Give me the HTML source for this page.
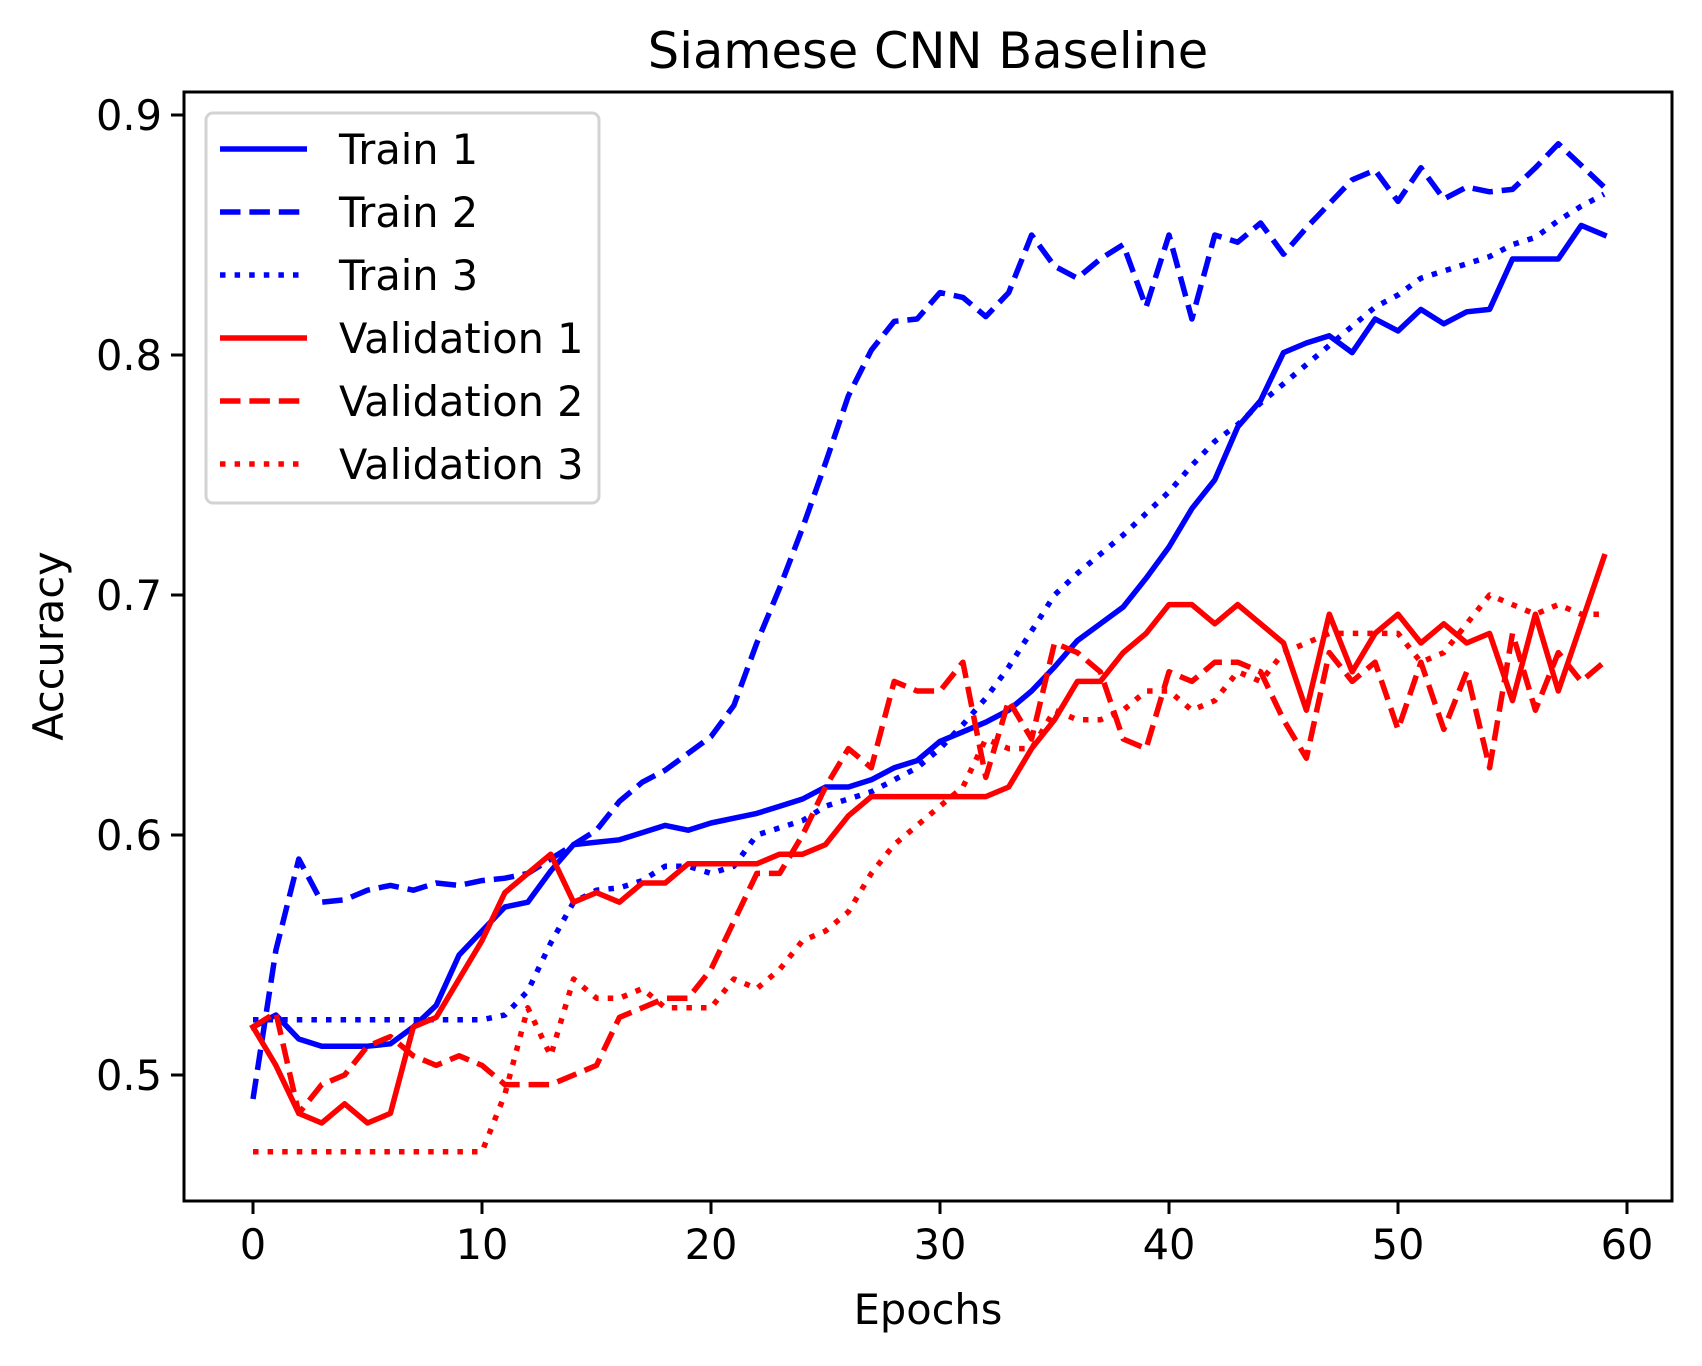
<!DOCTYPE html>
<html><head><meta charset="utf-8"><style>
html,body{margin:0;padding:0;background:#fff;}
svg text{font-family:"DejaVu Sans","Liberation Sans",sans-serif;fill:#000;}
</style></head><body>
<svg id="chart" width="1702" height="1361" viewBox="0 0 1702 1361" xmlns="http://www.w3.org/2000/svg">
<rect width="1702" height="1361" fill="#fff"/>
<text x="928" y="68" font-size="49.5" text-anchor="middle">Siamese CNN Baseline</text>
<g id="plot"></g>
<text x="928" y="1324" font-size="41.5" text-anchor="middle">Epochs</text>
<text transform="translate(63,646) rotate(-90)" font-size="41.5" text-anchor="middle">Accuracy</text>
</svg>
<script>
const epochs = Array.from({length:60},(_,i)=>i);
const train1 = [0.52,0.525,0.515,0.512,0.512,0.512,0.513,0.52,0.529,0.55,0.56,0.57,0.572,0.585,0.596,0.597,0.598,0.601,0.604,0.602,0.605,0.607,0.609,0.612,0.615,0.62,0.62,0.623,0.628,0.631,0.639,0.643,0.647,0.652,0.66,0.67,0.681,0.688,0.695,0.707,0.72,0.736,0.748,0.77,0.781,0.801,0.805,0.808,0.801,0.815,0.81,0.819,0.813,0.818,0.819,0.84,0.84,0.84,0.854,0.85];
const train2 = [0.49,0.552,0.59,0.572,0.573,0.577,0.579,0.577,0.58,0.579,0.581,0.582,0.584,0.59,0.596,0.602,0.614,0.622,0.627,0.634,0.641,0.654,0.68,0.703,0.728,0.755,0.783,0.802,0.814,0.815,0.826,0.824,0.816,0.826,0.85,0.837,0.832,0.84,0.846,0.82,0.85,0.815,0.85,0.847,0.855,0.842,0.853,0.863,0.873,0.877,0.864,0.878,0.865,0.87,0.868,0.869,0.878,0.888,0.879,0.87];
const train3 = [0.523,0.523,0.523,0.523,0.523,0.523,0.523,0.523,0.523,0.523,0.523,0.525,0.535,0.555,0.572,0.577,0.578,0.581,0.587,0.587,0.584,0.587,0.6,0.603,0.606,0.612,0.615,0.618,0.623,0.628,0.636,0.646,0.657,0.67,0.685,0.7,0.709,0.717,0.725,0.734,0.743,0.754,0.764,0.771,0.78,0.788,0.796,0.804,0.812,0.82,0.825,0.832,0.835,0.838,0.841,0.846,0.849,0.856,0.862,0.867];
const val1 = [0.52,0.504,0.484,0.48,0.488,0.48,0.484,0.52,0.524,0.54,0.556,0.576,0.584,0.592,0.572,0.576,0.572,0.58,0.58,0.588,0.588,0.588,0.588,0.592,0.592,0.596,0.608,0.616,0.616,0.616,0.616,0.616,0.616,0.62,0.636,0.648,0.664,0.664,0.676,0.684,0.696,0.696,0.688,0.696,0.688,0.68,0.652,0.692,0.668,0.684,0.692,0.68,0.688,0.68,0.684,0.656,0.692,0.66,0.688,0.716];
const val2 = [0.52,0.526,0.484,0.496,0.5,0.512,0.516,0.508,0.504,0.508,0.504,0.496,0.496,0.496,0.5,0.504,0.524,0.528,0.532,0.532,0.544,0.564,0.584,0.584,0.6,0.62,0.636,0.628,0.664,0.66,0.66,0.672,0.624,0.656,0.64,0.68,0.676,0.668,0.64,0.636,0.668,0.664,0.672,0.672,0.668,0.648,0.632,0.676,0.664,0.672,0.644,0.672,0.644,0.668,0.628,0.684,0.652,0.676,0.664,0.672];
const val3 = [0.468,0.468,0.468,0.468,0.468,0.468,0.468,0.468,0.468,0.468,0.468,0.492,0.528,0.508,0.54,0.532,0.532,0.536,0.528,0.528,0.528,0.54,0.536,0.544,0.556,0.56,0.568,0.584,0.596,0.604,0.612,0.62,0.64,0.636,0.636,0.652,0.648,0.648,0.652,0.66,0.66,0.652,0.656,0.668,0.664,0.676,0.68,0.684,0.684,0.684,0.684,0.672,0.676,0.688,0.7,0.696,0.692,0.696,0.692,0.692];
const xTicks = [0,10,20,30,40,50,60];
const yTicks = [0.5,0.6,0.7,0.8,0.9];
const seriesNames = ["Train 1","Train 2","Train 3","Validation 1","Validation 2","Validation 3"];

const NS="http://www.w3.org/2000/svg";
const L=184,R=1672,T=92,B=1201;
function xs(e){return 253+e*22.9;}
function ys(v){return 115+(0.9-v)*2400;}
const g=document.getElementById('plot');
function mk(tag,attrs,parent){const el=document.createElementNS(NS,tag);for(const k in attrs)el.setAttribute(k,attrs[k]);(parent||g).appendChild(el);return el;}

const clip=mk('clipPath',{id:'clip'});mk('rect',{x:L,y:T,width:R-L,height:B-T},clip);
const lines=mk('g',{'clip-path':'url(#clip)'});


const dashes={solid:null,dashed:'20.5,8.9',dotted:'5.5,9.1'};
const series=[
 {d:train1,c:'#0000ff',s:'solid',n:'train-1-line'},
 {d:train2,c:'#0000ff',s:'dashed',n:'train-2-line'},
 {d:train3,c:'#0000ff',s:'dotted',n:'train-3-line'},
 {d:val1,c:'#ff0000',s:'solid',n:'validation-1-line'},
 {d:val2,c:'#ff0000',s:'dashed',n:'validation-2-line'},
 {d:val3,c:'#ff0000',s:'dotted',n:'validation-3-line'}];
series.forEach(s=>{
 const pts=s.d.map((v,i)=>xs(epochs[i]).toFixed(1)+','+ys(v).toFixed(1)).join(' ');
 const a={points:pts,fill:'none',stroke:s.c,'stroke-width':5.5,'stroke-linejoin':'round','stroke-linecap':s.s==='solid'?'square':'butt'};
 if(dashes[s.s])a['stroke-dasharray']=dashes[s.s];
 const p=mk('polyline',a,lines);
 
 
});
const fr=mk('rect',{x:L,y:T,width:R-L,height:B-T,fill:'none',stroke:'#000','stroke-width':3});


xTicks.forEach(t=>{
 const x=xs(t);
 const tk=mk('line',{x1:x,x2:x,y1:B,y2:B+13,stroke:'#000','stroke-width':3});
 
 
 const tx=mk('text',{x:x,y:B+58,'font-size':41.5,'text-anchor':'middle'});
 tx.textContent=String(t);
 
 
});
yTicks.forEach(t=>{
 const y=ys(t);
 const tk=mk('line',{x1:L-13,x2:L,y1:y,y2:y,stroke:'#000','stroke-width':3});
 
 
 const tx=mk('text',{x:L-22,y:y+15,'font-size':41.5,'text-anchor':'end'});
 tx.textContent=t.toFixed(1);
 
 
});
const lg=mk('g',{});


mk('rect',{x:206,y:113,width:393,height:390,rx:7,fill:'#fff','fill-opacity':0.8,stroke:'#d3d3d3','stroke-width':3},lg);
seriesNames.forEach((nm,i)=>{
 const y=149+i*63;
 const s=series[i];
 const e=mk('g',{},lg);
 
 
 const a={x1:220,x2:307,y1:y,y2:y,stroke:s.c,'stroke-width':5.5};
 if(dashes[s.s])a['stroke-dasharray']=dashes[s.s];
 mk('line',a,e);
 const t=mk('text',{x:339,y:y+15,'font-size':41.5},e);
 t.textContent=nm;
});
</script>
</body></html>
